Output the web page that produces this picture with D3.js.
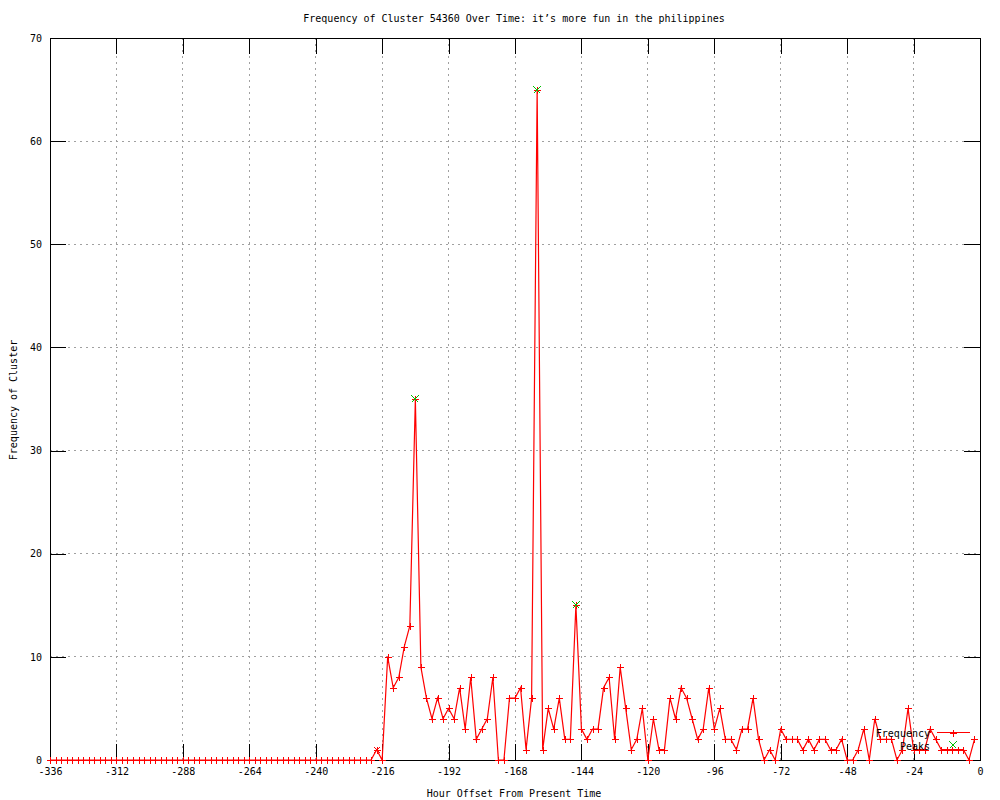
<!DOCTYPE html>
<html>
<head>
<meta charset="utf-8">
<script src="https://cdn.jsdelivr.net/npm/d3@7"></script>
<style>
  body { margin: 0; background: #fff; }
  text { font-family: "DejaVu Sans Mono", monospace; font-size: 10px; fill: #000; }
</style>
</head>
<body>
<svg id="chart" width="1000" height="800"></svg>
<script>
// frequency every 2 hours, from -336 up to -2
var start_hour = -336;
var step_hours = 2;
var freq = [
  0,0,0,0,0,0,0,0,0,0, 0,0,0,0,0,0,0,0,0,0,
  0,0,0,0,0,0,0,0,0,0, 0,0,0,0,0,0,0,0,0,0,
  0,0,0,0,0,0,0,0,0,0, 0,0,0,0,0,0,0,0,0,
  1,0,10,7,8,11,13,35,9,6, 4,6,4,5,4,7,3,8,2,3,
  4,8,0,0,6,6,7,1,6,65, 1,5,3,6,2,2,15,3,2,3,
  3,7,8,2,9,5,1,2,5,0, 4,1,1,6,4,7,6,4,2,3,
  7,3,5,2,2,1,3,3,6,2, 0,1,0,3,2,2,2,1,2,1,
  2,2,1,1,2,0,0,1,3,0, 4,2,2,2,0,1,5,1,1,1,
  3,2,1,1,1,1,1,0,2
];
var peak_hours = [-204, -160, -146];
var peak_values = [35, 65, 15];
var star_hours = [-218];
var star_values = [1];

var x_ticks = [-336,-312,-288,-264,-240,-216,-192,-168,-144,-120,-96,-72,-48,-24,0];
var y_ticks = [0,10,20,30,40,50,60,70];

var title = "Frequency of Cluster 54360 Over Time: it\u2019s more fun in the philippines";
var x_label = "Hour Offset From Present Time";
var y_label = "Frequency of Cluster";

var hours = d3.range(freq.length).map(function(i){ return start_hour + i*step_hours; });

var svg = d3.select("#chart");
var p_left = 50, p_right = 980, p_top = 38, p_bottom = 760;
var x = d3.scaleLinear().domain([-336, 0]).range([p_left, p_right]);
var y = d3.scaleLinear().domain([0, 70]).range([p_bottom, p_top]);

// grid
var grid = svg.append("g").attr("shape-rendering","crispEdges");
for (var i=1; i<x_ticks.length-1; i++) {
  grid.append("line").attr("x1",x(x_ticks[i])).attr("x2",x(x_ticks[i])).attr("y1",p_top).attr("y2",p_bottom)
    .style("stroke","#a0a0a0").style("stroke-dasharray","2,4");
}
for (var i=1; i<y_ticks.length-1; i++) {
  grid.append("line").attr("x1",p_left).attr("x2",p_right).attr("y1",y(y_ticks[i])).attr("y2",y(y_ticks[i]))
    .style("stroke","#a0a0a0").style("stroke-dasharray","2,4");
}

// axes (ticks inward on all sides)
var tick_len = 16;
var xb = svg.append("g").attr("transform","translate(0,"+p_bottom+")")
  .call(d3.axisBottom(x).tickValues(x_ticks).tickSizeInner(-tick_len).tickSizeOuter(0).tickPadding(6)
    .tickFormat(function(d){ return String(d); }));
var xt = svg.append("g").attr("transform","translate(0,"+p_top+")")
  .call(d3.axisTop(x).tickValues(x_ticks).tickSizeInner(-tick_len).tickSizeOuter(0).tickFormat(""));
var yl = svg.append("g").attr("transform","translate("+p_left+",0)")
  .call(d3.axisLeft(y).tickValues(y_ticks).tickSizeInner(-tick_len).tickSizeOuter(0).tickPadding(8));
var yr = svg.append("g").attr("transform","translate("+p_right+",0)")
  .call(d3.axisRight(y).tickValues(y_ticks).tickSizeInner(-tick_len).tickSizeOuter(0).tickFormat(""));
svg.selectAll(".domain, .tick line").style("stroke","#000").attr("shape-rendering","crispEdges");
svg.selectAll(".tick text").style("font-family","\"DejaVu Sans Mono\", monospace").style("font-size","10px").style("fill","#000");
xb.selectAll(".tick text").attr("dy","0.9em");

// frequency line
var line = d3.line().x(function(d){ return x(d[0]); }).y(function(d){ return y(d[1]); });
var pts = hours.map(function(h, i){ return [h, freq[i]]; });
svg.append("path").datum(pts).attr("d", line)
  .style("fill","none").style("stroke","#ff0000").style("stroke-width",1.2);

function plus(g, cx, cy, s, color){
  g.append("line").attr("x1",cx-s).attr("x2",cx+s).attr("y1",cy).attr("y2",cy).style("stroke",color);
  g.append("line").attr("x1",cx).attr("x2",cx).attr("y1",cy-s).attr("y2",cy+s).style("stroke",color);
}
function cross(g, cx, cy, s, color){
  g.append("line").attr("x1",cx-s).attr("x2",cx+s).attr("y1",cy-s).attr("y2",cy+s).style("stroke",color);
  g.append("line").attr("x1",cx-s).attr("x2",cx+s).attr("y1",cy+s).attr("y2",cy-s).style("stroke",color);
}

var marks = svg.append("g").attr("shape-rendering","crispEdges");
for (var i=0; i<pts.length; i++) {
  plus(marks, Math.round(x(pts[i][0])), Math.round(y(pts[i][1])), 3.5, "#ff0000");
}
for (var i=0; i<star_hours.length; i++) {
  cross(marks, Math.round(x(star_hours[i])), Math.round(y(star_values[i])), 3, "#ff0000");
}
for (var i=0; i<peak_hours.length; i++) {
  cross(marks, Math.round(x(peak_hours[i])), Math.round(y(peak_values[i])), 3.5, "#00c000");
}

// legend
svg.append("text").attr("x",930).attr("y",733).attr("dy","0.35em").attr("text-anchor","end").text("Frequency");
svg.append("text").attr("x",930).attr("y",746).attr("dy","0.35em").attr("text-anchor","end").text("Peaks");
svg.append("line").attr("x1",937).attr("x2",970).attr("y1",732.5).attr("y2",732.5).style("stroke","#ff0000").style("stroke-width",1.2);
plus(marks, 953, 733, 3.5, "#ff0000");
cross(marks, 953, 745, 3.5, "#00c000");

// titles
svg.append("text").attr("x",514).attr("y",18).attr("dy","0.35em").attr("text-anchor","middle").text(title);
svg.append("text").attr("x",514).attr("y",793).attr("dy","0.35em").attr("text-anchor","middle").text(x_label);
svg.append("text").attr("transform","translate(13,400) rotate(-90)").attr("dy","0.35em").attr("text-anchor","middle").text(y_label);
</script>
</body>
</html>
